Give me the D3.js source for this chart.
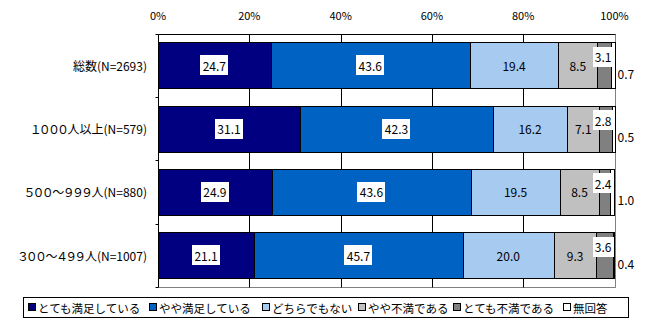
<!DOCTYPE html>
<html>
<head>
<meta charset="utf-8">
<script src="https://cdn.jsdelivr.net/npm/d3@7"></script>
<style>
  html, body { margin: 0; padding: 0; background: #fff; }
  svg { display: block; font-family: "Noto Sans CJK JP", "Noto Sans", sans-serif; }
  .cat-label { font-feature-settings: "palt" 1; }
</style>
</head>
<body>
<svg id="chart" width="652" height="326"></svg>
<script>
// Respondent groups (rows, top to bottom)
const categories = [
  "総数(N=2693)",
  "１０００人以上(N=579)",
  "５００～９９９人(N=880)",
  "３００～４９９人(N=1007)"
];

// Answer categories (stack order, left to right)
const seriesNames = [
  "とても満足している",
  "やや満足している",
  "どちらでもない",
  "やや不満である",
  "とても不満である",
  "無回答"
];

// Shares (%) per row, one array per answer
const verySatisfied        = [24.7, 31.1, 24.9, 21.1];
const somewhatSatisfied    = [43.6, 42.3, 43.6, 45.7];
const neutral              = [19.4, 16.2, 19.5, 20.0];
const somewhatDissatisfied = [8.5, 7.1, 8.5, 9.3];
const veryDissatisfied     = [3.1, 2.8, 2.4, 3.6];
const noAnswer             = [0.7, 0.5, 1.0, 0.4];

// Axis ticks
const tickValues = [0, 20, 40, 60, 80, 100];
const tickLabels = ["0%", "20%", "40%", "60%", "80%", "100%"];

// Fill colours per answer
const colors = ["#000080", "#0062C2", "#A6CAF0", "#C0C0C0", "#808080", "#FFFFFF"];

// Label style per answer: boxed/plain, and where it sits
const labelMode = ["boxCenter", "boxCenter", "center", "center", "boxAbove", "outside"];

// Legend item offsets
const legendX = [28, 148.7, 262, 358, 452.7, 563];

const seriesValues = [verySatisfied, somewhatSatisfied, neutral,
                      somewhatDissatisfied, veryDissatisfied, noAnswer];

const rows = categories.map((c, i) => {
  const r = { category: c };
  seriesNames.forEach((s, j) => { r[s] = seriesValues[j][i]; });
  return r;
});

const stacked = d3.stack()
  .keys(seriesNames)
  .offset(d3.stackOffsetExpand)(rows);

const svg = d3.select("#chart");

const plot = { left: 158, right: 614.5, top: 33.5, bottom: 287 };

const x = d3.scaleLinear().domain([0, 1]).range([plot.left, plot.right]);
const y = d3.scaleBand()
  .domain(categories)
  .range([plot.top, plot.bottom])
  .paddingInner(0.274)
  .paddingOuter(0.137);

const step = y.step();
const px = v => Math.round(v) + 0.5;

// Plot frame (right and bottom)
svg.append("path")
  .attr("d", `M${px(plot.right)},${px(plot.top)}V${px(plot.bottom)}H${px(plot.left)}`)
  .attr("fill", "none")
  .attr("stroke", "#808080")
  .attr("stroke-width", 1);

// Vertical gridlines
svg.append("g")
  .selectAll("line")
  .data(tickValues.filter(v => v > 0))
  .join("line")
  .attr("x1", d => px(x(d / 100)))
  .attr("x2", d => px(x(d / 100)))
  .attr("y1", px(plot.top))
  .attr("y2", px(plot.bottom))
  .attr("stroke", d => d === 100 ? "#808080" : "#000")
  .attr("stroke-width", 1);

// Top axis labels
svg.append("g")
  .selectAll("text")
  .data(tickValues)
  .join("text")
  .attr("x", d => x(d / 100))
  .attr("y", 15)
  .attr("text-anchor", "middle")
  .attr("dominant-baseline", "central")
  .attr("font-size", 11)
  .attr("fill", "#000")
  .text((d, i) => tickLabels[i]);

// Top axis line
svg.append("line")
  .attr("x1", px(plot.left)).attr("x2", px(plot.right))
  .attr("y1", px(plot.top)).attr("y2", px(plot.top))
  .attr("stroke", "#000");

// Left axis line and band ticks
svg.append("line")
  .attr("x1", px(plot.left)).attr("x2", px(plot.left))
  .attr("y1", px(plot.top)).attr("y2", px(plot.bottom))
  .attr("stroke", "#000");

svg.append("g")
  .selectAll("line")
  .data(d3.range(categories.length + 1))
  .join("line")
  .attr("x1", px(plot.left) - 3)
  .attr("x2", px(plot.left))
  .attr("y1", d => px(plot.top + d * step))
  .attr("y2", d => px(plot.top + d * step))
  .attr("stroke", "#000");

// Category labels
svg.append("g")
  .selectAll("text")
  .data(categories)
  .join("text")
  .attr("class", "cat-label")
  .attr("x", 147)
  .attr("y", d => y(d) + y.bandwidth() / 2)
  .attr("text-anchor", "end")
  .attr("dominant-baseline", "central")
  .attr("font-size", 12)
  .attr("fill", "#000")
  .text(d => d);

// Stacked bars
const layers = svg.append("g")
  .selectAll("g")
  .data(stacked)
  .join("g")
  .attr("fill", (d, i) => colors[i]);

layers.selectAll("rect")
  .data(d => d)
  .join("rect")
  .attr("x", d => px(x(d[0])))
  .attr("y", d => px(y(d.data.category)))
  .attr("width", d => Math.max(0, Math.round(x(d[1])) - Math.round(x(d[0]))))
  .attr("height", Math.round(y.bandwidth()))
  .attr("stroke", "#000")
  .attr("stroke-width", 1);

// Value labels
const fmt = d3.format(".1f");
const labelLayer = svg.append("g");

stacked.forEach((layer, si) => {
  const mode = labelMode[si];
  layer.forEach(d => {
    const value = d.data[layer.key];
    const top = y(d.data.category);
    const cy = top + y.bandwidth() / 2;
    const g = labelLayer.append("g");
    const t = g.append("text")
      .attr("font-size", 12)
      .attr("fill", "#000")
      .attr("dominant-baseline", "central")
      .text(fmt(value));
    const w = t.node().getComputedTextLength();

    if (mode === "boxCenter" || mode === "center") {
      const cx = (x(d[0]) + x(d[1])) / 2;
      t.attr("x", cx).attr("y", cy).attr("text-anchor", "middle");
      if (mode === "boxCenter") {
        g.insert("rect", "text")
          .attr("x", Math.round(cx - w / 2 - 2.5))
          .attr("y", Math.round(cy - 10))
          .attr("width", Math.round(w + 5))
          .attr("height", 20)
          .attr("fill", "#fff");
      }
    } else if (mode === "boxAbove") {
      const right = x(1) - 1;
      const ly = top + 14.5;
      t.attr("x", right - w - 2).attr("y", ly).attr("text-anchor", "start");
      g.insert("rect", "text")
        .attr("x", Math.round(right - w - 4))
        .attr("y", Math.round(ly - 10))
        .attr("width", Math.round(w + 4))
        .attr("height", 20)
        .attr("fill", "#fff");
    } else {
      t.attr("x", x(1) + 3).attr("y", top + 31).attr("text-anchor", "start");
    }
  });
});

// Legend
const legend = svg.append("g");
legend.append("rect")
  .attr("x", 23.5).attr("y", 297.5)
  .attr("width", 605).attr("height", 20)
  .attr("fill", "#fff")
  .attr("stroke", "#000");

const items = legend.selectAll("g.item")
  .data(seriesNames)
  .join("g")
  .attr("class", "item")
  .attr("transform", (d, i) => `translate(${Math.round(legendX[i])},0)`);

items.append("rect")
  .attr("x", 0.5).attr("y", 303.5)
  .attr("width", 7).attr("height", 7)
  .attr("fill", (d, i) => colors[i])
  .attr("stroke", "#000");

items.append("text")
  .attr("x", 10)
  .attr("y", 307.5)
  .attr("dominant-baseline", "central")
  .attr("font-size", 11.5)
  .attr("fill", "#000")
  .text(d => d);
</script>
</body>
</html>
